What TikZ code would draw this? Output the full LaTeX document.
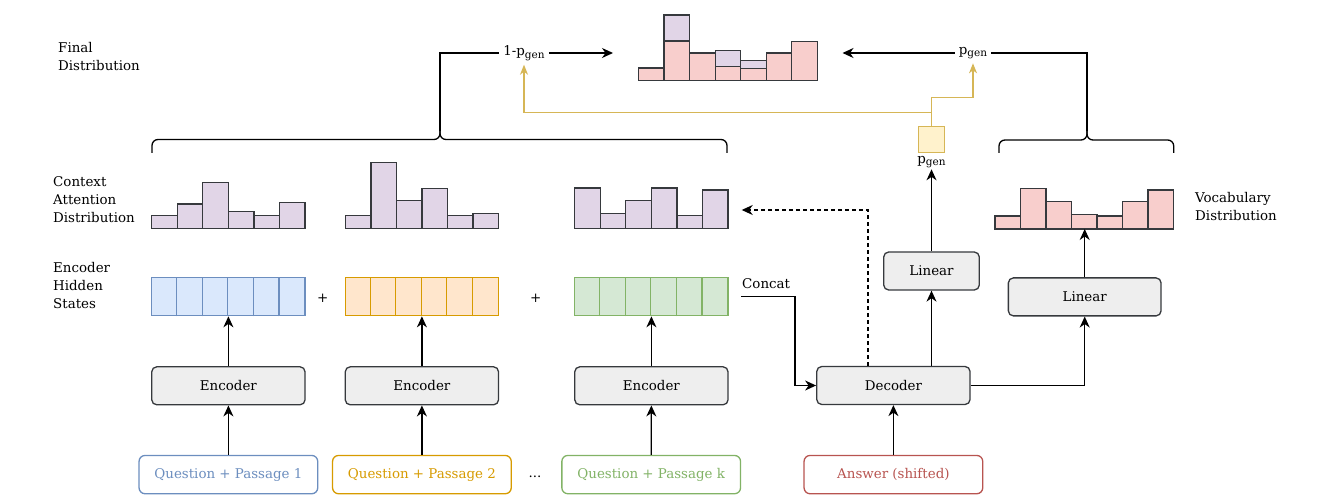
\documentclass[tikz,border=0pt]{standalone}
\usepackage{fontspec}
\setmainfont{DejaVu Serif}
\usetikzlibrary{arrows.meta,calc}
\definecolor{strk}{HTML}{36393D}
\definecolor{grayf}{HTML}{EEEEEE}
\definecolor{pinkf}{HTML}{F8CECC}
\definecolor{purpf}{HTML}{E1D5E7}
\definecolor{bluef}{HTML}{DAE8FC}
\definecolor{blued}{HTML}{6C8EBF}
\definecolor{orangef}{HTML}{FFE6CC}
\definecolor{oranged}{HTML}{D79B00}
\definecolor{greenf}{HTML}{D5E8D4}
\definecolor{greend}{HTML}{82B366}
\definecolor{redd}{HTML}{B85450}
\definecolor{yelf}{HTML}{FFF2CC}
\definecolor{yeld}{HTML}{D6B656}
\newcommand\mybars[4]{%
  \foreach \t [count=\i from 0] in {#4} {%
    \draw[hbar,fill=#3] ({#1+\i*25.53},#2) rectangle ({#1+(\i+1)*25.53},\t);}}
\newcommand\pg{p\raisebox{-0.4ex}{\fontsize{10.5}{10}\selectfont gen}}
\begin{document}
\begin{tikzpicture}[x=1pt,y=-1pt,
  font=\fontsize{13.4}{18}\selectfont,
  every node/.style={inner sep=1pt},
  blk/.style={draw=strk,fill=grayf,rounded corners=5,line width=1.3pt,minimum height=38pt},
  inbox/.style={draw=#1,text=#1,fill=white,rounded corners=6,line width=1.3pt,minimum width=178.7pt,minimum height=38.3pt},
  hsrow/.style={draw=#1,line width=1.3pt,minimum width=153.3pt,minimum height=38.4pt},
  hbar/.style={draw=strk,line width=1.4pt},
  ln/.style={line width=1.3pt},
  arr/.style={line width=1.3pt,-{Stealth[length=11pt,width=10pt,inset=3.5pt]}},
  yarr/.style={draw=yeld,line width=1.3pt,-{Stealth[length=10pt,width=8pt,inset=3pt]}},
  lbl/.style={align=left,anchor=north west},
  plbl/.style={inner sep=4pt},
  brace/.style={line width=1.3pt,rounded corners=6}
]
\useasboundingbox (0,0) rectangle (1332,502);

% left labels
\node[lbl] (tfinal) at (57,41) {Final\\Distribution};
\node[lbl] (tatt) at (52,175) {Context\\Attention\\Distribution};
\node[lbl] (thid) at (52,261) {Encoder\\Hidden\\States};
\node[lbl] (tvoc) at (1194,191) {Vocabulary\\Distribution};

% inputs
\node[inbox=blued] (in1) at (228.4,474.6) {Question + Passage 1};
\node[inbox=oranged] (in2) at (421.9,474.6) {Question + Passage 2};
\node[inbox=greend] (in3) at (651.2,474.6) {Question + Passage k};
\node[inbox=redd] (ans) at (893.4,474.6) {Answer (shifted)};
\node (dots) at (535,477) {...};

% encoders
\node[blk,minimum width=153.3pt] (enc1) at (228.4,385.8) {Encoder};
\node[blk,minimum width=153.3pt] (enc2) at (421.9,385.8) {Encoder};
\node[blk,minimum width=153.3pt] (enc3) at (651.4,385.8) {Encoder};
\node[blk,minimum width=153.3pt] (dec) at (893.4,385.5) {Decoder};
\node[blk,minimum width=95.6pt] (lin1) at (931.5,271) {Linear};
\node[blk,minimum width=152.7pt] (lin2) at (1084.7,296.9) {Linear};

% hidden states
\node[hsrow=blued,fill=bluef] (hs1) at (228.4,296.5) {};
\node[hsrow=oranged,fill=orangef] (hs2) at (421.9,296.5) {};
\node[hsrow=greend,fill=greenf] (hs3) at (651.4,296.5) {};
\foreach \n/\c in {hs1/blued,hs2/oranged,hs3/greend}{
  \foreach \k in {1,...,5}{
    \draw[draw=\c,line width=1.3pt] ($(\n.south west)+(\k*25.55,0)$) -- ($(\n.north west)+(\k*25.55,0)$);}}
\node (plus1) at (322.7,298) {+};
\node (plus2) at (535.7,298) {+};

% attention histograms
\mybars{151.7}{228.3}{purpf}{215.7,204,182.3,211.7,215.7,202.7}
\mybars{345.3}{228.3}{purpf}{215.7,162.7,200.7,188.3,215.7,213.3}
\mybars{574.7}{228.3}{purpf}{188,213.3,200.7,188,215.7,190}
\coordinate (att3) at (741.7,210);
% vocabulary histogram
\mybars{995}{229}{pinkf}{216,188.3,201.3,214.3,216,201.3,190}
\coordinate (vocb) at (1084.7,229);
% final histogram
\mybars{638.6}{80.7}{pinkf}{68,41,53,66.3,68.3,53,41.7}
\draw[hbar,fill=purpf] ({638.6+25.53},41) rectangle ({638.6+2*25.53},15);
\draw[hbar,fill=purpf] ({638.6+3*25.53},66.3) rectangle ({638.6+4*25.53},50.7);
\draw[hbar,fill=purpf] ({638.6+4*25.53},68.3) rectangle ({638.6+5*25.53},60.3);

% braces
\draw[brace] (152,153) -- (152,139.5) -- (440,139.5) -- (440,130);
\draw[brace] (727,153) -- (727,139.5) -- (440,139.5) -- (440,130);
\draw[brace] (999,153) -- (999,140) -- (1087,140) -- (1087,130);
\draw[brace] (1173.7,153) -- (1173.7,140) -- (1087,140) -- (1087,130);
\coordinate (tip1) at (440,131);
\coordinate (tip2) at (1087,131);

% p_gen labels
\node[plbl] (l1) at (524,53) {1-\pg};
\node[plbl] (l2) at (973,53) {\pg};
\coordinate (finl) at (613,53);
\coordinate (finr) at (842.5,53);
\node[draw=yeld,fill=yelf,line width=1.3pt,minimum width=25.6pt,minimum height=25.6pt] (pbox) at (931.5,139.5) {};
\node (pt) at (931.5,162) {\pg};

% connectors
\draw[ln] (tip1) |- (l1.west);
\draw[arr] (l1.east) -- (finl);
\draw[ln] (tip2) |- (l2.east);
\draw[arr] (l2.west) -- (finr);
\draw[yarr] (pbox.north) -- ++(0,-13.7) -| (l1.south);
\draw[yarr] (pbox.north) -- ++(0,-28.7) -| (l2.south);

\foreach \k in {1,2,3}{
  \draw[arr] (in\k) -- (enc\k);
  \draw[arr] (enc\k) -- (hs\k);}
\draw[arr] (ans) -- (dec);
\draw[arr] ([xshift=12.4pt]hs3.east) -- (795,296.5) |- (dec.west);
\node[anchor=south west] (concat) at (741,290) {Concat};
\draw[arr,dash pattern=on 4pt off 3pt] ([xshift=-25.4pt]dec.north) |- (att3);
\draw[arr] (dec.north -| lin1.south) -- (lin1.south);
\draw[arr] (dec.east) -| (lin2.south);
\draw[arr] (lin1.north) -- (pt.south);
\draw[arr] (lin2.north) -- (vocb);
\end{tikzpicture}
\end{document}
